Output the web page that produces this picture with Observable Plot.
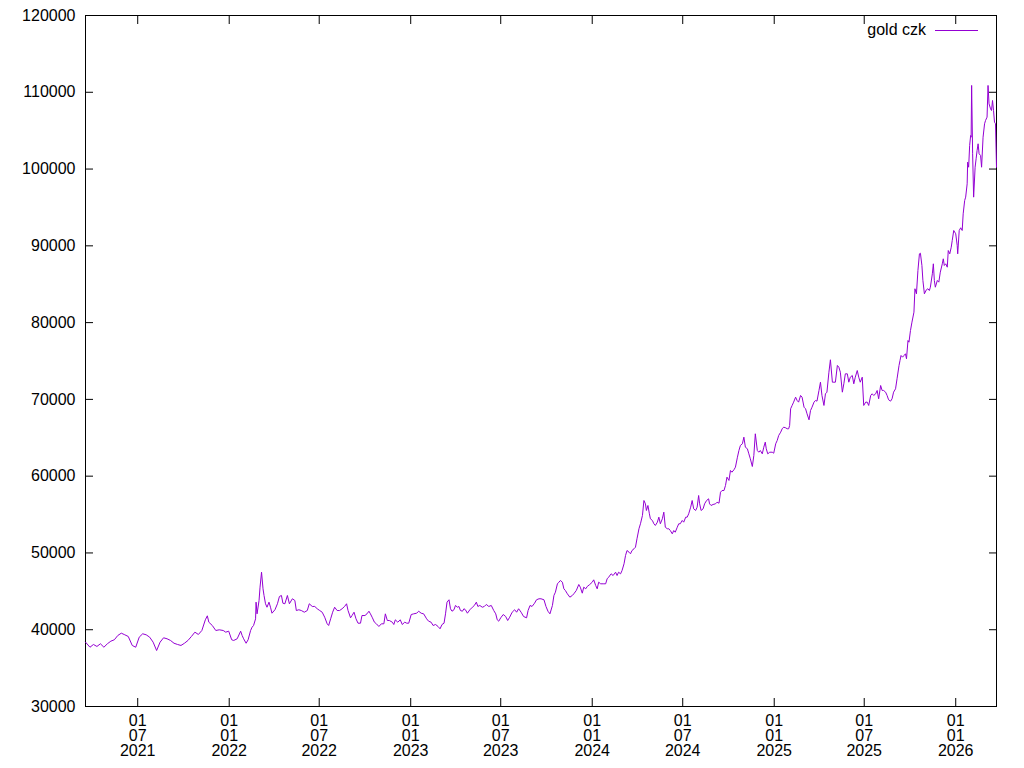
<!DOCTYPE html>
<html>
<head>
<meta charset="utf-8">
<script src="https://cdn.jsdelivr.net/npm/d3@7"></script>
<script src="https://cdn.jsdelivr.net/npm/@observablehq/plot@0.6"></script>
<style>
  html, body { margin: 0; padding: 0; background: #fff; }
  #wrap { position: relative; width: 1024px; height: 768px; overflow: hidden; }
  #legend-text { position: absolute; right: 98px; top: 22px; font: 16px/16px "Liberation Sans", Arial, sans-serif; color: #000; white-space: nowrap; }
  #legend-line { position: absolute; left: 935px; top: 30px; width: 43px; height: 1px; background: #9400d3; }
</style>
</head>
<body>
<div id="wrap"></div>
<script>
// ---- data ----
const seriesName = "gold czk";
const startDate = "2021-03-18";
const dayOffsets = [
  0,9,16,23,30,37,44,51,58,65,72,79,86,94,101,108,115,122,129,136,
  143,150,157,164,171,178,185,192,199,206,213,220,227,234,241,245,248,255,262,269,
  277,282,288,294,298,305,312,315,318,323,327,332,335,338,342,343,345,349,351,354,
  357,359,362,365,369,372,375,381,386,390,394,397,401,406,410,416,421,424,429,434,
  440,446,450,456,461,466,471,476,481,486,489,493,497,501,506,511,516,521,525,528,
  533,536,540,544,548,553,556,562,566,570,573,577,581,585,590,595,600,603,607,611,
  617,620,623,628,633,637,642,646,650,655,660,666,670,675,680,686,690,695,699,704,
  709,713,717,721,724,727,731,734,737,741,744,748,751,754,758,761,764,768,773,778,
  782,786,789,793,798,802,806,811,816,821,825,828,831,835,840,845,849,853,858,863,
  867,871,876,881,887,890,894,898,903,907,912,916,922,926,930,934,939,942,945,949,
  952,955,959,962,965,969,974,979,982,987,992,995,999,1002,1006,1009,1014,1019,1022,1026,
  1029,1032,1036,1041,1046,1049,1052,1057,1061,1066,1069,1072,1076,1079,1083,1086,1089,1093,1096,1099,
  1103,1106,1109,1113,1116,1120,1123,1126,1128,1131,1134,1136,1140,1143,1146,1150,1153,1156,1160,1163,
  1166,1170,1173,1176,1180,1183,1186,1190,1193,1196,1200,1203,1207,1210,1213,1217,1220,1223,1227,1230,
  1233,1235,1238,1242,1245,1249,1253,1255,1258,1262,1267,1270,1274,1277,1280,1284,1287,1290,1294,1297,
  1300,1304,1307,1311,1314,1317,1321,1324,1327,1331,1334,1337,1341,1344,1347,1351,1354,1357,1361,1364,
  1367,1369,1372,1376,1381,1384,1388,1391,1394,1398,1401,1404,1408,1411,1414,1416,1418,1421,1424,1428,
  1431,1434,1438,1441,1445,1448,1451,1455,1458,1461,1465,1468,1471,1475,1478,1481,1485,1488,1491,1495,
  1498,1502,1505,1508,1512,1515,1518,1522,1525,1528,1532,1535,1538,1542,1545,1548,1552,1555,1558,1562,
  1565,1569,1572,1575,1579,1582,1585,1589,1592,1595,1599,1602,1605,1609,1612,1615,1619,1622,1625,1629,
  1632,1636,1638,1640,1643,1646,1649,1651,1654,1656,1659,1662,1666,1668,1671,1674,1677,1679,1682,1684,
  1687,1691,1694,1697,1699,1703,1705,1707,1709,1713,1716,1719,1723,1725,1727,1730,1733,1735,1738,1741,
  1743,1746,1750,1753,1754,1757,1760,1763,1765,1768,1770,1773,1774,1776,1778,1780,1781,1782,1784,1786,
  1789,1791,1793,1795,1797,1800,1802,1805,1808,1810,1813,1815,1817,1820,1822,1824,1826,1828,1830,1832
];
const goldCzk = [
  38380,37720,38080,37820,38170,37720,38170,38510,38690,39250,39550,39340,39120,37950,37720,39030,39470,39340,39030,38380,
  37290,38380,38950,38820,38600,38240,38080,37950,38240,38600,39120,39680,39380,39900,41290,41810,40980,40550,39900,39990,
  39900,39680,39810,38690,38600,38820,39810,39250,38820,38240,38690,39900,40330,40550,41420,43590,42070,43810,45540,47490,
  45330,44460,43380,42930,43590,42930,42150,42600,43380,44330,44460,43450,43380,44460,43380,44030,43810,42500,42600,42500,
  42280,42500,43380,43030,43030,42730,42500,42280,41630,40770,40550,41420,42280,42930,42500,42500,42730,43030,43380,42500,
  41550,41850,42280,41420,40850,40850,41850,41850,42070,42410,42070,41550,40980,40770,40420,40770,40770,42070,41200,41200,
  40980,40680,41290,40980,41290,40680,40980,40850,40850,41980,42070,42150,42410,42150,42070,41420,41110,40980,40550,40680,
  40420,40120,40680,40850,42070,43590,43900,42730,42410,42600,43160,42930,43030,42500,42410,42730,42600,42150,42600,42930,
  43160,43590,43030,43160,42930,43030,43290,43030,43160,42500,42070,41290,41110,41550,41980,41720,41200,41630,42280,42600,
  42280,42730,42280,41720,41550,42500,43160,43030,43450,43900,44030,44030,43900,43030,42410,42070,43160,44460,44890,45980,
  46190,46410,46190,45330,45110,44680,44240,44460,44680,45110,45890,45540,44760,45540,45330,45630,45890,46190,46500,45760,
  45330,46190,45980,45980,45980,46630,46840,47280,47060,47490,47060,47490,47280,47710,48590,49670,50320,50100,49890,50320,
  50540,50750,51840,53150,53800,54880,56830,56400,55530,56180,55100,54450,54230,53800,53580,54010,54660,53800,54450,55310,
  53350,53150,53150,52920,52490,52920,52700,53350,53800,53800,54230,54010,54660,54660,55100,55960,56830,55750,55530,55960,
  57480,56400,55530,55750,56400,56830,57050,56400,56180,56310,56400,56610,56480,57910,58130,58130,58790,59870,59440,60740,
  60520,60830,61170,62470,63340,64000,64220,65080,63770,63570,62910,62260,61260,62690,65520,63340,63120,63340,62910,63770,
  64430,63570,62910,63120,63120,62990,64220,64650,65300,65730,66170,66380,66300,66170,66170,66600,68780,69210,69640,70290,
  69860,69640,70510,70290,68980,68780,68120,67340,68550,68980,69640,69860,69770,71160,72240,70510,69210,70730,70940,73540,
  75160,72240,72240,72240,74420,74190,73540,70940,72030,73330,73330,72240,72890,73110,72030,72890,73760,72890,72240,72890,
  69210,69640,69640,69210,70510,70730,70510,70730,71160,70080,71810,71160,71160,70940,70510,69950,69770,70080,70940,71380,
  72680,74420,75070,75720,75500,75720,75940,75290,77670,77450,78970,80060,81360,84410,83750,86790,88960,89040,87440,85490,
  83750,84280,84410,84180,84610,86360,87660,85490,84610,85490,85270,86570,87660,88310,87440,87660,87220,89390,88960,89820,
  90700,92000,91570,90050,88960,92000,92350,92000,94170,95910,96340,98080,100900,100240,103070,104370,104150,110890,101990,96340,
  100240,101340,102420,103290,101990,101770,100240,104150,105900,106330,106760,110890,108500,107850,107630,108930,107630,106110,105900,100240
];
const yTicks = [30000, 40000, 50000, 60000, 70000, 80000, 90000, 100000, 110000, 120000];
const xTickDates = ["2021-07-01", "2022-01-01", "2022-07-01", "2023-01-01", "2023-07-01",
                    "2024-01-01", "2024-07-01", "2025-01-01", "2025-07-01", "2026-01-01"];
const yDomain = [30000, 120000];

// ---- build table ----
const start = new Date(startDate + "T00:00:00Z");
const data = dayOffsets.map((d, i) => ({ date: d3.utcDay.offset(start, d), value: goldCzk[i] }));
const xTicks = xTickDates.map(s => new Date(s + "T00:00:00Z"));
const xDomain = d3.extent(data, d => d.date);

const chart = Plot.plot({
  width: 1024,
  height: 768,
  marginLeft: 85,
  marginRight: 28,
  marginTop: 15,
  marginBottom: 62,
  style: { fontFamily: "'Liberation Sans', Arial, sans-serif", fontSize: "16px", background: "#fff", color: "#000" },
  x: { type: "utc", domain: xDomain, label: null },
  y: { domain: yDomain, label: null },
  marks: [
    Plot.frame({ stroke: "#000" }),
    Plot.line(data, { x: "date", y: "value", stroke: "#9400d3", strokeWidth: 1 }),
    Plot.axisY(yTicks, { anchor: "left", tickSize: 0, tickPadding: 10, tickFormat: d => String(d), label: null }),
    Plot.axisY(yTicks, { anchor: "left", tickSize: 8, dx: 8, fill: "none", label: null }),
    Plot.axisY(yTicks, { anchor: "right", tickSize: 8, dx: -8, fill: "none", label: null }),
    Plot.axisX(xTicks, { anchor: "bottom", tickSize: 0, tickPadding: 9, tickFormat: d3.utcFormat("%d\n%m\n%Y"), lineHeight: 0.94, label: null }),
    Plot.axisX(xTicks, { anchor: "bottom", tickSize: 8, dy: -8, fill: "none", label: null }),
    Plot.axisX(xTicks, { anchor: "top", tickSize: 8, dy: 8, fill: "none", label: null })
  ]
});

const wrap = document.getElementById("wrap");
wrap.appendChild(chart);
const lt = document.createElement("div");
lt.id = "legend-text";
lt.textContent = seriesName;
wrap.appendChild(lt);
const ll = document.createElement("div");
ll.id = "legend-line";
wrap.appendChild(ll);
</script>
</body>
</html>
